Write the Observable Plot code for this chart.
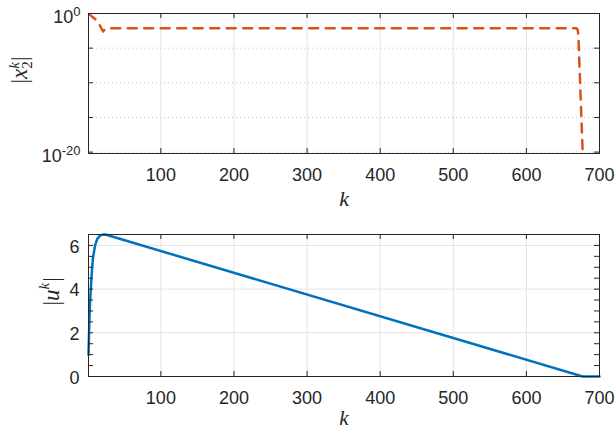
<!DOCTYPE html>
<html><head><meta charset="utf-8">
<script src="https://cdn.jsdelivr.net/npm/d3@7"></script>
<script src="https://cdn.jsdelivr.net/npm/@observablehq/plot@0.6"></script>
<style>
body{margin:0;background:#fff;}
#chart svg{display:block;}
</style></head><body><div id="chart"></div>
<script>
// ---- data ----
const kTop = [1, 6, 11, 16, 19, 21, 24, 30, 668, 670, 671, 674, 677, 679];
const x2Top = [1, 0.35, 0.13, 0.025, 6.3e-3, 2.5e-3, 6.3e-3, 7.4e-3, 7.4e-3, 5e-3, 1e-3, 3e-12, 1e-20, 1e-25];
const kBot = [1, 2, 3, 5, 7, 10, 13, 17, 20, 24, 677, 700];
const uBot = [1.0, 2.3, 3.3, 4.5, 5.4, 6.0, 6.3, 6.46, 6.49, 6.5, 0, 0];
const xTicks = [100, 200, 300, 400, 500, 600, 700];
const topYTicks = [1, 1e-5, 1e-10, 1e-15, 1e-20];
const topYLabelTicks = [1, 1e-20];
const topYLabelExp = ["0", "-20"];
const botYTicks = [0, 2, 4, 6];
const botYMinor = [0, 0.5, 1, 1.5, 2, 2.5, 3, 3.5, 4, 4.5, 5, 5.5, 6, 6.5];

const topData = kTop.map((k, i) => ({k, v: x2Top[i]}));
const botData = kBot.map((k, i) => ({k, v: uBot[i]}));

const sans = "'Liberation Sans', Arial, Helvetica, sans-serif";
const serif = "'Liberation Serif', 'Times New Roman', serif";
const ink = "#262626";
const gridC = "#e3e3e3";
const TL = 5; // tick length

function frameTicks(fw, fh, yTickVals) {
  return [
    Plot.tickX(xTicks, {x: d => d, stroke: ink, insetTop: fh - TL}),
    Plot.tickX(xTicks, {x: d => d, stroke: ink, insetBottom: fh - TL}),
    Plot.tickY(yTickVals, {y: d => d, stroke: ink, insetRight: fw - TL}),
    Plot.tickY(yTickVals, {y: d => d, stroke: ink, insetLeft: fw - TL})
  ];
}

// replace the content of texts whose content equals `key` by tspans
function setParts(svg, key, parts) {
  let i = 0;
  d3.select(svg).selectAll("text").each(function() {
    if (this.textContent !== key) return;
    const t = d3.select(this);
    const pp = typeof parts === "function" ? parts(i++) : parts;
    t.text(null);
    pp.forEach(p => {
      const ts = t.append("tspan").text(p.t);
      for (const a in (p.a || {})) ts.attr(a, p.a[a]);
    });
  });
}

const ML = 88, MR = 17, W = 616;
const FW = W - ML - MR;

// ---- top panel ----
const topH = 215, topMT = 13, topMB = 62;
const topFH = topH - topMT - topMB;
const topSvg = Plot.plot({
  width: W, height: topH,
  marginTop: topMT, marginBottom: topMB, marginLeft: ML, marginRight: MR,
  x: {domain: [1, 700], axis: null},
  y: {type: "log", domain: [Math.pow(10, -20.2), 1], axis: null},
  style: {fontFamily: sans, color: ink, background: "#fff"},
  marks: [
    Plot.ruleX(xTicks, {x: d => d, stroke: gridC, strokeWidth: 1}),
    Plot.ruleY(topYTicks, {y: d => d, stroke: "#c4c4c4", strokeDasharray: "1,3"}),
    Plot.line(topData, {x: "k", y: "v", stroke: "#D95319", strokeWidth: 2.5, strokeDasharray: "9,7.5", clip: true}),
    Plot.frame({stroke: ink, strokeWidth: 1}),
    ...frameTicks(FW, topFH, topYTicks),
    Plot.text(xTicks, {x: d => d, frameAnchor: "bottom", dy: 22, text: d => String(d), fontSize: 18, fill: ink, lineAnchor: "middle"}),
    Plot.text(topYLabelTicks, {y: d => d, frameAnchor: "left", dx: -8, dy: 4, text: () => "10", fontSize: 18, fill: ink, textAnchor: "end", lineAnchor: "middle"}),
    Plot.text(["k"], {frameAnchor: "bottom", dy: 45, text: d => d, fontFamily: serif, fontStyle: "italic", fontSize: 22, fill: ink, lineAnchor: "middle"}),
    Plot.text(["x2k"], {frameAnchor: "left", dx: -69, rotate: -90, text: d => d, fontFamily: serif, fontSize: 23, fill: ink, lineAnchor: "middle"})
  ]
});
setParts(topSvg, "10", i => [{t: "10"}, {t: topYLabelExp[i], a: {"font-size": 13, dy: -7}}]);
setParts(topSvg, "x2k", [
  {t: "|"},
  {t: "x", a: {"font-style": "italic"}},
  {t: "2", a: {"font-size": 15, dy: 5}},
  {t: "k", a: {"font-style": "italic", "font-size": 15, dx: -7.5, dy: -13}},
  {t: "|", a: {dy: 8, dx: 1}}
]);

// ---- bottom panel ----
const botH = 216, botMT = 19, botMB = 55;
const botFH = botH - botMT - botMB;
const botSvg = Plot.plot({
  width: W, height: botH,
  marginTop: botMT, marginBottom: botMB, marginLeft: ML, marginRight: MR,
  x: {domain: [1, 700], axis: null},
  y: {domain: [0, 6.5], axis: null},
  style: {fontFamily: sans, color: ink, background: "#fff"},
  marks: [
    Plot.ruleX(xTicks, {x: d => d, stroke: gridC, strokeWidth: 1}),
    Plot.ruleY(botYTicks, {y: d => d, stroke: gridC, strokeWidth: 1}),
    Plot.line(botData, {x: "k", y: "v", stroke: "#0072BD", strokeWidth: 2.5}),
    Plot.frame({stroke: ink, strokeWidth: 1}),
    ...frameTicks(FW, botFH, botYMinor),
    Plot.text(xTicks, {x: d => d, frameAnchor: "bottom", dy: 22, text: d => String(d), fontSize: 18, fill: ink, lineAnchor: "middle"}),
    Plot.text(botYTicks, {y: d => d, frameAnchor: "left", dx: -9, dy: 1.5, text: d => String(d), fontSize: 18, fill: ink, textAnchor: "end", lineAnchor: "middle"}),
    Plot.text(["k"], {frameAnchor: "bottom", dy: 42, text: d => d, fontFamily: serif, fontStyle: "italic", fontSize: 21, fill: ink, lineAnchor: "middle"}),
    Plot.text(["uk"], {frameAnchor: "left", dx: -37, rotate: -90, text: d => d, fontFamily: serif, fontSize: 23, fill: ink, lineAnchor: "middle"})
  ]
});
setParts(botSvg, "uk", [
  {t: "|"},
  {t: "u", a: {"font-style": "italic"}},
  {t: "k", a: {"font-style": "italic", "font-size": 15, dy: -10}},
  {t: "|", a: {dy: 10, dx: 1}}
]);

document.getElementById("chart").append(topSvg, botSvg);
</script>
</body></html>
